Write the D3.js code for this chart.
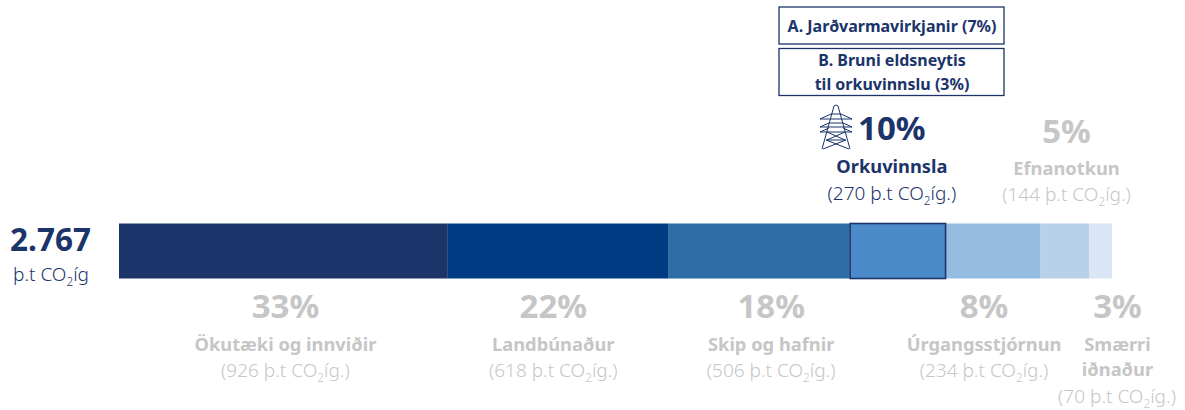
<!DOCTYPE html>
<html><head><meta charset="utf-8">
<script src="https://cdn.jsdelivr.net/npm/d3@7"></script>
<style>html,body{margin:0;background:#fff}svg{display:block}text{font-family:"Noto Sans",sans-serif}</style>
</head><body><svg id="c" width="1185" height="410"></svg>
<script>
const categories=["Ökutæki og innviðir","Landbúnaður","Skip og hafnir","Orkuvinnsla","Úrgangsstjórnun","Efnanotkun","Smærri iðnaður"];
const percents=[33,22,18,10,8,5,3];
const tonnes=[926,618,506,270,234,144,70];
const barShares=[329,221,181,96.5,94,49,23];
const colors=["#1b3469","#003c84","#2e6ca6","#4c8bc9","#96bbe0","#b8d1ea","#dae6f5"];
const labelShift=[2,-5,12,-6,-9,2,17];
const totalValue="2.767";
const breakdown=[["A. Jarðvarmavirkjanir (7%)"],["B. Bruni eldsneytis","til orkuvinnslu (3%)"]];
const NAVY="#1b3469",GREY="#c6c6c6";
const svg=d3.select("#c");
const cum=d3.cumsum(barShares);
const x=d3.scaleLinear().domain([0,d3.sum(barShares)]).range([119,1112]);
const starts=barShares.map((d,i)=>i?cum[i-1]:0);
const barTop=223.5,barH=55;
svg.selectAll("rect.seg").data(barShares).join("rect").attr("class","seg")
 .attr("x",(d,i)=>x(starts[i])).attr("y",barTop).attr("width",(d)=>x(d)-x(0)).attr("height",barH)
 .attr("fill",(d,i)=>colors[i]);
const hi=3;
svg.append("rect").attr("x",x(starts[hi])+.5).attr("y",barTop).attr("width",x(barShares[hi])-x(0)-1).attr("height",barH)
 .attr("fill","none").attr("stroke",NAVY).attr("stroke-width",1.6);
function txt(s,cx,y,size,weight,fill,anchor="middle"){
 return svg.append("text").attr("x",cx).attr("y",y).attr("font-size",size).attr("font-weight",weight).attr("fill",fill).attr("text-anchor",anchor).text(s);
}
function co2(v,cx,y,fill,size=19,tail="íg.)",head){
 const t=svg.append("text").attr("x",cx).attr("y",y).attr("font-size",size).attr("font-weight",300).attr("fill",fill).attr("text-anchor","middle");
 t.append("tspan").text(head!==undefined?head:`(${v} þ.t CO`);
 t.append("tspan").attr("dy",5).attr("font-size",size*.62).text("2");
 t.append("tspan").attr("dy",-5).text(tail);
 return t;
}
categories.forEach((c,i)=>{
 const cx=x(starts[i]+barShares[i]/2)+labelShift[i];
 const above=i===3||i===5;
 const col=i===3?NAVY:GREY;
 if(above){
  txt(percents[i]+"%",cx,i===3?140:143,i===3?33:33,700,col);
  txt(c,cx,i===3?173:175,18.3,700,col);
  co2(tonnes[i],cx,i===3?200:201,col);
 } else {
  txt(percents[i]+"%",cx,318,33,700,col);
  if(i===6){
   txt("Smærri",cx,351,18.3,700,col);
   txt("iðnaður",cx,376,18.3,700,col);
   co2(tonnes[i],cx-.5,403,col);
  } else {
   txt(c,cx,351,18.3,700,col);
   co2(tonnes[i],cx,377,col);
  }
 }
});
// total
txt(totalValue,50.5,251,31.5,700,NAVY);
co2(0,51,281,NAVY,19,"íg","þ.t CO");
// breakdown boxes
const boxY=[7,48.5],boxH=[37,47];
breakdown.forEach((lines,i)=>{
 svg.append("rect").attr("x",779).attr("y",boxY[i]).attr("width",225).attr("height",boxH[i]).attr("fill","#fff").attr("stroke",NAVY).attr("stroke-width",1.3);
 lines.forEach((l,j)=>txt(l,892,(i?66:32)+j*24,16,700,NAVY));
});
// pylon icon
const g=svg.append("g").attr("transform","translate(836,128)").attr("fill","none").attr("stroke",NAVY).attr("stroke-width",1);
const segs=[[[-2,-22],[-14,21]],[[2,-22],[14,21]],[[0,-23],[-2,-22]],[[0,-23],[2,-22]],
[[-16,-9],[16,-9]],[[-16,-9],[-5,-14]],[[16,-9],[5,-14]],
[[-16,-1],[16,-1]],[[-16,4],[16,4]],[[-16,-1],[-7,-5]],[[16,-1],[7,-5]],[[-16,4],[-7,0]],[[16,4],[7,0]],
[[-7,-5],[7,-5]],[[-5,-14],[5,-14]],
[[-9,4],[9,12]],[[9,4],[-9,12]],[[-10,12],[10,12]],[[-10,12],[13,21]],[[10,12],[-13,21]]];
g.selectAll("line").data(segs).join("line").attr("x1",d=>d[0][0]).attr("y1",d=>d[0][1]).attr("x2",d=>d[1][0]).attr("y2",d=>d[1][1]);
</script></body></html>
